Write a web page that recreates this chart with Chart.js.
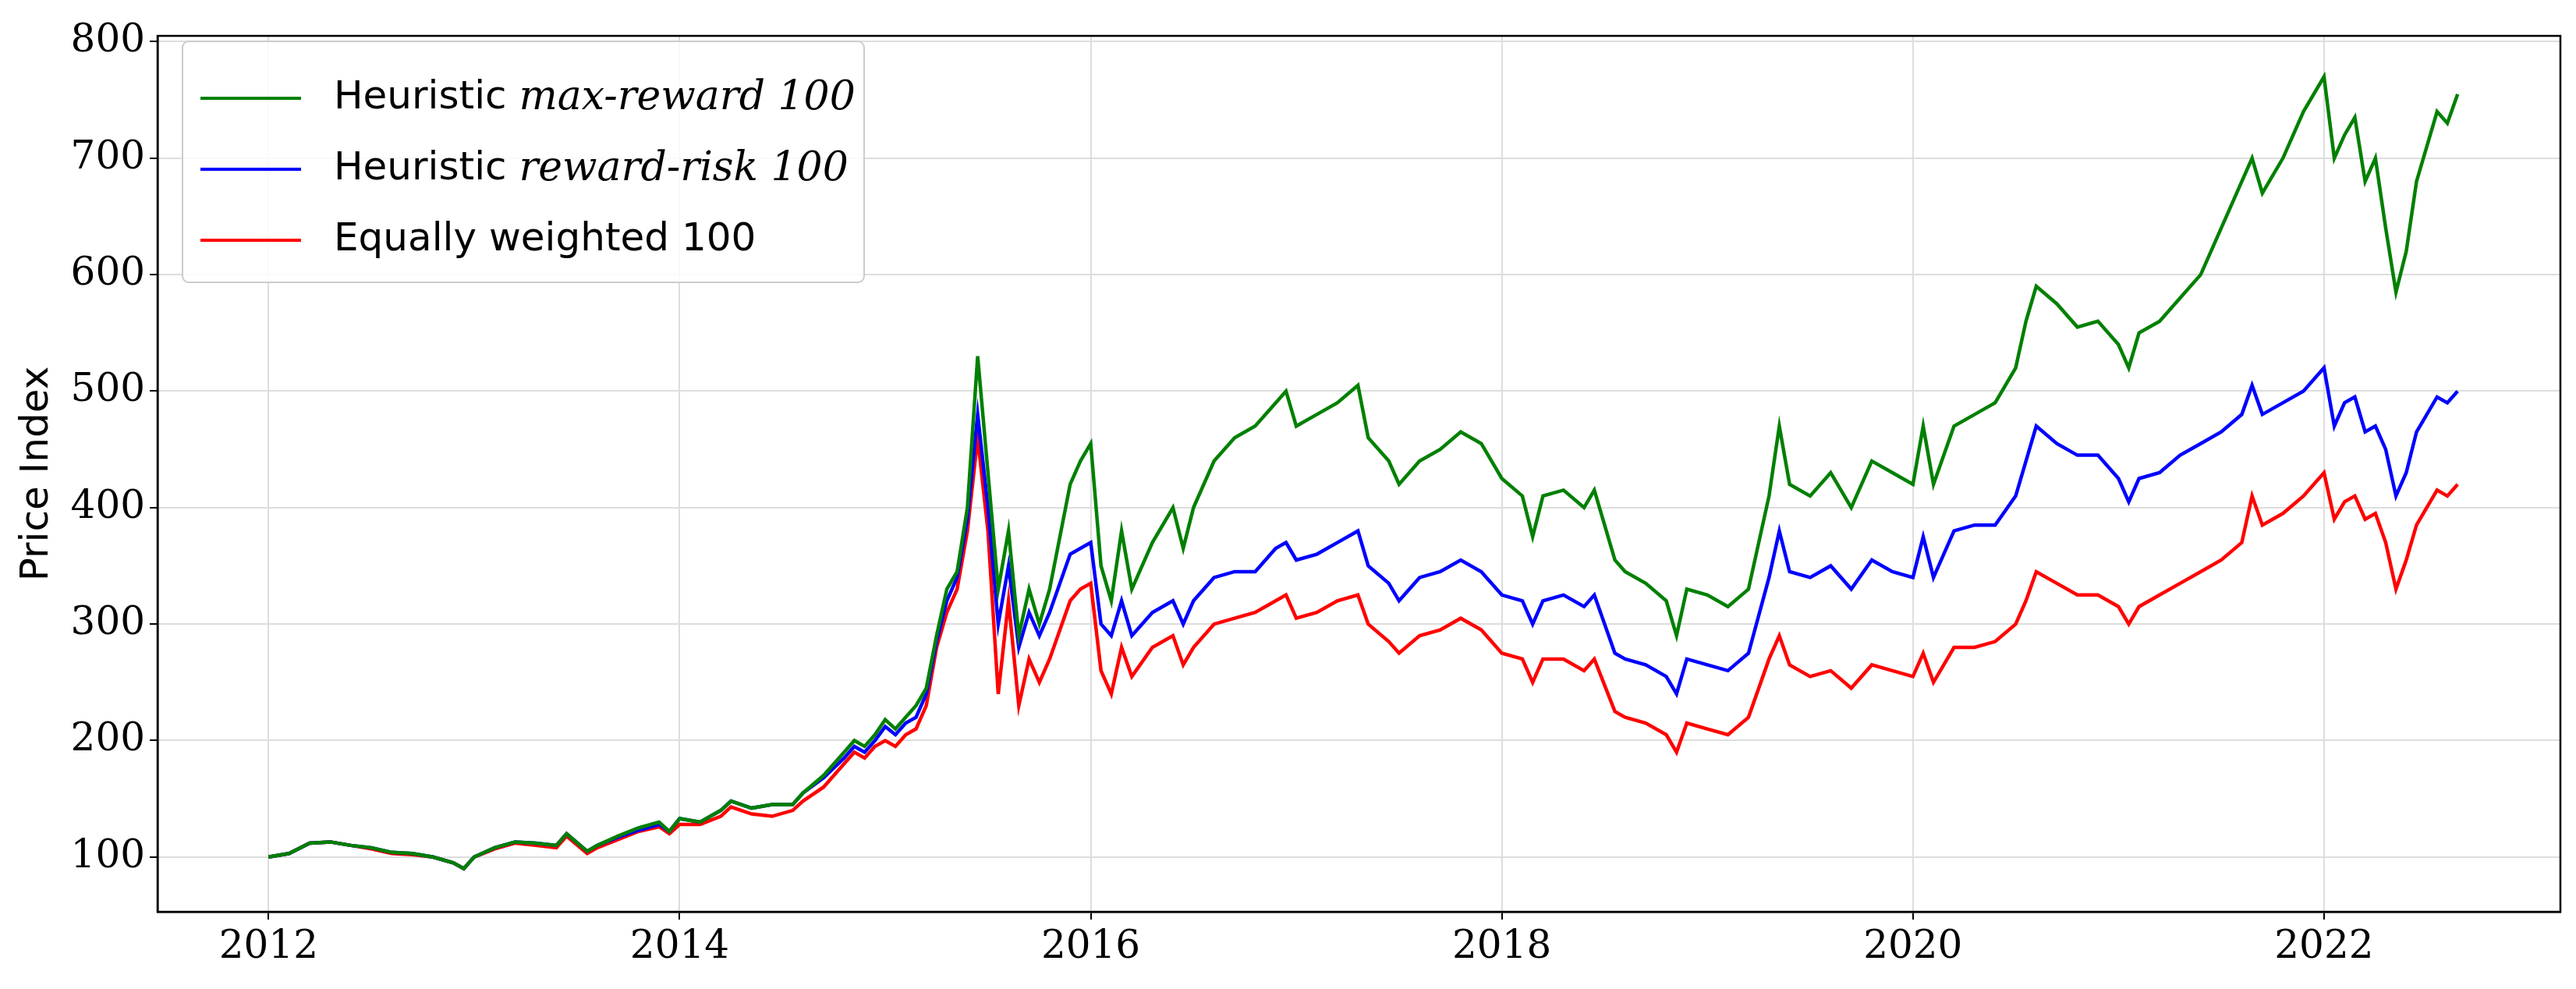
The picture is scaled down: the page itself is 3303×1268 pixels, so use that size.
<!DOCTYPE html>
<html><head><meta charset="utf-8">
<script src="https://cdn.jsdelivr.net/npm/chart.js@4"></script>
<style>html,body{margin:0;padding:0;background:#fff}#w{width:3303px;height:1268px}</style>
</head><body><div id="w"><canvas id="c"></canvas></div>
<script>
const years = [2012.0,2012.1,2012.2,2012.3,2012.4,2012.5,2012.6,2012.7,2012.8,2012.9,2012.95,2013.0,2013.1,2013.2,2013.3,2013.4,2013.45,2013.55,2013.6,2013.7,2013.8,2013.9,2013.95,2014.0,2014.1,2014.2,2014.25,2014.35,2014.45,2014.55,2014.6,2014.7,2014.8,2014.85,2014.9,2014.95,2015.0,2015.05,2015.1,2015.15,2015.2,2015.25,2015.3,2015.35,2015.4,2015.45,2015.5,2015.55,2015.6,2015.65,2015.7,2015.75,2015.8,2015.9,2015.95,2016.0,2016.05,2016.1,2016.15,2016.2,2016.3,2016.4,2016.45,2016.5,2016.6,2016.7,2016.8,2016.9,2016.95,2017.0,2017.1,2017.2,2017.3,2017.35,2017.45,2017.5,2017.6,2017.7,2017.8,2017.9,2018.0,2018.1,2018.15,2018.2,2018.3,2018.4,2018.45,2018.55,2018.6,2018.7,2018.8,2018.85,2018.9,2019.0,2019.1,2019.2,2019.3,2019.35,2019.4,2019.5,2019.6,2019.7,2019.8,2019.9,2020.0,2020.05,2020.1,2020.2,2020.3,2020.4,2020.5,2020.55,2020.6,2020.7,2020.8,2020.9,2021.0,2021.05,2021.1,2021.2,2021.3,2021.4,2021.5,2021.6,2021.65,2021.7,2021.8,2021.9,2022.0,2022.05,2022.1,2022.15,2022.2,2022.25,2022.3,2022.35,2022.4,2022.45,2022.55,2022.6,2022.65];
const maxReward = [100,103,112,113,110,108,104,103,100,95,90,100,108,113,112,110,120,105,110,118,125,130,122,133,130,140,148,142,145,145,155,170,190,200,195,205,218,210,220,230,245,290,330,345,400,530,430,330,380,290,330,300,330,420,440,455,350,320,380,330,370,400,365,400,440,460,470,490,500,470,480,490,505,460,440,420,440,450,465,455,425,410,375,410,415,400,415,355,345,335,320,290,330,325,315,330,410,470,420,410,430,400,440,430,420,470,420,470,480,490,520,560,590,575,555,560,540,520,550,560,580,600,640,680,700,670,700,740,770,700,720,735,680,700,640,585,620,680,740,730,755];
const rewardRisk = [100,103,112,113,110,108,104,103,100,95,90,100,108,113,112,110,120,105,110,117,123,128,122,133,130,140,148,142,145,145,155,168,185,195,190,200,212,205,215,220,240,285,320,340,390,480,400,300,350,280,310,290,310,360,365,370,300,290,320,290,310,320,300,320,340,345,345,365,370,355,360,370,380,350,335,320,340,345,355,345,325,320,300,320,325,315,325,275,270,265,255,240,270,265,260,275,340,380,345,340,350,330,355,345,340,375,340,380,385,385,410,440,470,455,445,445,425,405,425,430,445,455,465,480,505,480,490,500,520,470,490,495,465,470,450,410,430,465,495,490,500];
const equalW = [100,103,112,113,110,107,103,102,100,95,90,100,107,112,110,108,118,103,108,115,122,126,120,128,128,135,143,137,135,140,148,160,180,190,185,195,200,195,205,210,230,280,310,330,380,460,380,240,320,230,270,250,270,320,330,335,260,240,280,255,280,290,265,280,300,305,310,320,325,305,310,320,325,300,285,275,290,295,305,295,275,270,250,270,270,260,270,225,220,215,205,190,215,210,205,220,270,290,265,255,260,245,265,260,255,275,250,280,280,285,300,320,345,335,325,325,315,300,315,325,335,345,355,370,410,385,395,410,430,390,405,410,390,395,370,330,355,385,415,410,420];
const seriesNames = ['Heuristic ', 'Heuristic ', 'Equally weighted 100'];
const seriesItalic = ['max-reward 100', 'reward-risk 100', ''];
const seriesColors = ['#008000', '#0000ff', '#ff0000'];
const yTicks = [100,200,300,400,500,600,700,800];
const xTicks = [2012,2014,2016,2018,2020,2022];

const mk = (arr) => years.map((x,i)=>({x:x,y:arr[i]}));
const legendPlugin = {
  id:'customLegend',
  afterDraw(chart){
    const ctx = chart.ctx;
    ctx.save();
    const bx=234, by=53, bw=874, bh=309;
    ctx.fillStyle='rgba(255,255,255,0.85)';
    ctx.strokeStyle='#cccccc'; ctx.lineWidth=2;
    ctx.beginPath(); ctx.roundRect(bx,by,bw,bh,8); ctx.fill(); ctx.stroke();
    const rows=[126,217,308];
    for(let i=0;i<3;i++){
      ctx.strokeStyle=seriesColors[i]; ctx.lineWidth=4;
      ctx.beginPath(); ctx.moveTo(257,rows[i]); ctx.lineTo(386,rows[i]); ctx.stroke();
      ctx.fillStyle='#000'; ctx.textBaseline='middle'; ctx.textAlign='left';
      ctx.font='50px "DejaVu Sans"';
      ctx.fillText(seriesNames[i],428,rows[i]);
      const w=ctx.measureText(seriesNames[i]).width;
      if(seriesItalic[i]){ ctx.font='italic 52px "DejaVu Serif"'; ctx.fillText(seriesItalic[i],428+w,rows[i]); }
    }
    ctx.restore();
  }
};
new Chart(document.getElementById('c'),{
  type:'line',
  data:{datasets:[
    {data:mk(maxReward),borderColor:seriesColors[0],borderWidth:4.5,pointRadius:0,tension:0},
    {data:mk(rewardRisk),borderColor:seriesColors[1],borderWidth:4.5,pointRadius:0,tension:0},
    {data:mk(equalW),borderColor:seriesColors[2],borderWidth:4.5,pointRadius:0,tension:0}
  ]},
  options:{
    responsive:true,maintainAspectRatio:false,animation:false,devicePixelRatio:1,
    layout:{padding:{top:46,right:20,left:0,bottom:0}},
    plugins:{legend:{display:false},tooltip:{enabled:false}},
    scales:{
      x:{type:'linear',min:2011.46,max:2023.15,
        afterBuildTicks:s=>{s.ticks=xTicks.map(v=>({value:v}));},
        afterFit:s=>{s.height=99;},
        ticks:{font:{family:'"DejaVu Serif"',size:50},color:'#000',padding:6,callback:v=>String(v),maxRotation:0},
        grid:{color:'#dddddd',lineWidth:2,tickColor:'#000',tickLength:10},
        border:{color:'#000',width:2.5}},
      y:{min:53,max:805,
        afterBuildTicks:s=>{s.ticks=yTicks.map(v=>({value:v}));},
        afterFit:s=>{s.width=202;},
        ticks:{font:{family:'"DejaVu Serif"',size:50},color:'#000',padding:6},
        title:{display:true,text:'Price Index',font:{family:'"DejaVu Sans"',size:50},color:'#000',padding:{top:18,bottom:0}},
        grid:{color:'#dddddd',lineWidth:2,tickColor:'#000',tickLength:10},
        border:{color:'#000',width:2.5}}
    }
  },
  plugins:[legendPlugin, {id:'frame',afterDraw(c){const a=c.chartArea,x=c.ctx;x.save();x.strokeStyle='#000';x.lineWidth=2.5;x.strokeRect(a.left,a.top,a.right-a.left,a.bottom-a.top);x.restore();}}]
});
</script></body></html>
